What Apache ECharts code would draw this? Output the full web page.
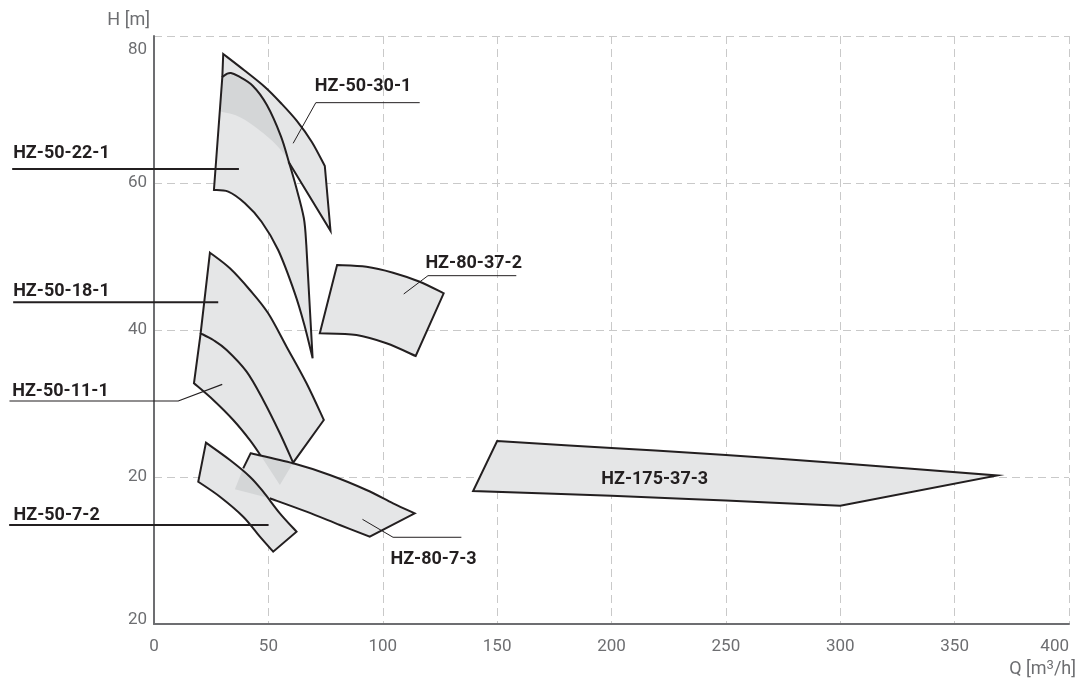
<!DOCTYPE html>
<html>
<head>
<meta charset="utf-8">
<script src="https://cdn.jsdelivr.net/npm/echarts@6/dist/echarts.min.js"></script>
<style>
html,body{margin:0;padding:0;background:#fff;}
#chart{width:1079px;height:682px;}
</style>
</head>
<body>
<div id="chart"></div>
<script>
// ---- axis ticks ----
const xMin = 0, xMax = 400, xStep = 50;
const yTickValues = [0, 20, 40, 60, 80];
const yTickLabels = ['20', '20', '40', '60', '80'];
const yAxisName = 'H [m]';

// ---- pump working areas [Q m3/h, H m] ----
const hz50_30_1 = [[30.26,77.55],[39.3,75.37],[48.47,73.06],[55.46,70.88],[62.45,68.44],[69.0,65.58],[74.67,62.31],[77.16,53.51],[58.8,62.9],[57.21,63.81],[51.75,65.71],[43.67,67.76],[36.46,69.12],[28.55,69.76]];
const hz50_22_1 = [[26.2,59.05],[29.87,74.42],[31.75,74.83],[33.62,74.97],[36.68,74.56],[43.23,73.2],[49.34,70.61],[55.46,66.39],[58.95,62.86],[62.01,59.59],[65.5,55.24],[66.59,51.56],[69.34,36.15],[65.94,40.45],[61.57,44.99],[54.28,50.88],[47.03,54.73],[39.74,57.24],[32.45,58.82]];
const hz50_18_1 = [[24.45,50.52],[33.19,48.39],[41.92,45.44],[49.91,42.27],[57.95,37.73],[66.68,32.75],[74.24,27.76],[60.83,21.95],[55.02,25.95],[47.73,30.48],[40.48,34.33],[31.75,37.28],[25.9,38.64],[20.39,39.55]];
const hz50_11_1 = [[20.39,39.55],[17.47,32.75],[25.9,30.48],[34.63,27.76],[41.92,25.03],[46.7,22.9],[55.02,18.91],[60.83,21.95],[55.02,25.95],[47.73,30.48],[40.48,34.33],[31.75,37.28],[25.9,38.64]];
const hz80_7_3 = [[42.23,23.22],[60.83,21.86],[76.86,20.27],[92.88,18.23],[104.5,16.42],[113.97,15.06],[94.32,11.88],[81.22,13.47],[66.68,15.28],[50.66,17.1],[35.37,18.33],[39.0,21.18]];
const hz50_7_2 = [[22.71,24.67],[33.19,22.31],[41.92,20.04],[47.73,18.0],[55.02,15.06],[62.31,12.56],[52.1,9.84],[46.29,11.88],[39.0,14.6],[28.82,17.32],[19.34,19.36]];
const hz80_37_2 = [[80.04,48.84],[92.88,48.61],[104.5,47.8],[116.16,46.57],[126.64,44.99],[114.41,36.46],[101.62,38.19],[88.52,39.32],[72.49,39.55]];
const hz175_37_3 = [[150,24.9],[200,23.95],[250,23.0],[300,21.87],[368.6,20.2],[300,16.1],[250,16.8],[200,17.45],[139.5,18.1]];

// sharp vertices of each area (indices); the runs between them are smooth curves
const cor50_30_1 = [0, 6, 7, 8, 13];
const cor50_22_1 = [0, 1, 11, 12];
const cor50_18_1 = [0, 6, 7, 13];
const cor50_11_1 = [0, 1, 5, 6, 7];
const cor80_7_3 = [0, 5, 6, 9, 10, 11];
const cor50_7_2 = [0, 5, 6, 10];
const cor80_37_2 = [0, 4, 5, 8];
const cor175_37_3 = [0, 4, 5, 8];

// ---- drawn open outlines (edges hidden inside an overlap are left out) ----
const out50_30_1 = [[29.87,74.42],[30.26,77.55],[39.3,75.37],[48.47,73.06],[55.46,70.88],[62.45,68.44],[69.0,65.58],[74.67,62.31],[77.16,53.51],[58.8,62.9]];
const outCor50_30_1 = [0, 1, 7, 8, 9];
const out50_11_1 = [[20.39,39.55],[17.47,32.75],[25.9,30.48],[34.63,27.76],[41.92,25.03],[46.7,22.9]];
const outCor50_11_1 = [0, 1, 5];
const out80_7_3 = [[39.0,21.18],[42.23,23.22],[60.83,21.86],[76.86,20.27],[92.88,18.23],[104.5,16.42],[113.97,15.06],[94.32,11.88],[81.22,13.47],[66.68,15.28],[50.66,17.1]];
const outCor80_7_3 = [0, 1, 6, 7, 10];

// ---- leader lines ----
const lead50_22_1 = [[-62.0,61.9],[37.12,61.9]];
const lead50_30_1 = [[60.83,65.4],[70.74,70.93],[116.16,70.93]];
const lead50_18_1 = [[-61.57,43.77],[28.08,43.77]];
const lead50_11_1 = [[-63.19,30.34],[10.61,30.34],[29.83,32.61]];
const lead80_37_2 = [[109.17,44.9],[119.78,47.39],[158.38,47.39]];
const lead50_7_2 = [[-63.32,13.47],[50.09,13.47]];
const lead80_7_3 = [[91.14,14.24],[104.5,11.8],[134.37,11.8]];

// ---- labels ----
const labelNames = ['HZ-50-22-1','HZ-50-30-1','HZ-50-18-1','HZ-50-11-1','HZ-80-37-2','HZ-50-7-2','HZ-80-7-3','HZ-175-37-3'];
const labelAt = [[-61.57,63.95],[70.3,73.1],[-61.57,45.21],[-62.0,31.7],[118.65,49.07],[-61.4,14.74],[103.36,8.8],[218.9,19.6]];
const labelAlign = ['left','left','left','left','left','left','left','center'];

const areas = [
  {pts: hz50_22_1, cor: cor50_22_1, stroke: true},
  {pts: hz50_30_1, cor: cor50_30_1, stroke: false},
  {pts: hz50_18_1, cor: cor50_18_1, stroke: true},
  {pts: hz50_11_1, cor: cor50_11_1, stroke: false},
  {pts: hz80_37_2, cor: cor80_37_2, stroke: true},
  {pts: hz50_7_2, cor: cor50_7_2, stroke: true},
  {pts: hz80_7_3, cor: cor80_7_3, stroke: false},
  {pts: hz175_37_3, cor: cor175_37_3, stroke: true}
];
const openOutlines = [
  {pts: out50_30_1, cor: outCor50_30_1},
  {pts: out50_11_1, cor: outCor50_11_1},
  {pts: out80_7_3, cor: outCor80_7_3}
];
const leaders = [lead50_22_1, lead50_30_1, lead50_18_1, lead50_11_1, lead80_37_2, lead50_7_2, lead80_7_3];
const leaderWidth = [2, 1, 2, 1.2, 1, 2, 1];

const INK = '#231f20';
const AXIS = '#6d6e71';
const FILL = 'rgba(180,182,186,0.35)';

// path through pixel points: straight between consecutive sharp vertices,
// Catmull-Rom spline through the intermediate points otherwise
function pathFrom(px, corners, closed) {
  const n = px.length;
  const cs = corners.slice().sort((a, b) => a - b);
  const f = p => p[0].toFixed(2) + ' ' + p[1].toFixed(2);
  let d = 'M' + f(px[cs[0]]);
  const runs = [];
  for (let k = 0; k < cs.length - 1; k++) runs.push([cs[k], cs[k + 1]]);
  if (closed) runs.push([cs[cs.length - 1], cs[0] + n]);
  runs.forEach(([a, b]) => {
    const seg = [];
    for (let i = a; i <= b; i++) seg.push(px[i % n]);
    if (seg.length === 2) { d += ' L' + f(seg[1]); return; }
    for (let i = 0; i < seg.length - 1; i++) {
      const p0 = seg[Math.max(i - 1, 0)], p1 = seg[i], p2 = seg[i + 1], p3 = seg[Math.min(i + 2, seg.length - 1)];
      const c1 = [p1[0] + (p2[0] - p0[0]) / 6, p1[1] + (p2[1] - p0[1]) / 6];
      const c2 = [p2[0] - (p3[0] - p1[0]) / 6, p2[1] - (p3[1] - p1[1]) / 6];
      d += ' C' + f(c1) + ' ' + f(c2) + ' ' + f(p2);
    }
  });
  if (closed) d += ' Z';
  return d;
}

function customSeries(list, render, z) {
  return {
    type: 'custom', coordinateSystem: 'cartesian2d', silent: true, z: z, clip: false,
    data: list.map((_, i) => [i, 0]),
    renderItem: (params, api) => render(list[params.dataIndex], params.dataIndex, api)
  };
}

const chart = echarts.init(document.getElementById('chart'), null, {renderer: 'canvas'});
chart.setOption({
  animation: false,
  backgroundColor: '#fff',
  grid: {left: 154, right: 9, top: 36, bottom: 58},
  xAxis: {
    type: 'value', min: xMin, max: xMax, interval: xStep,
    axisLine: {show: true, lineStyle: {color: AXIS, width: 2}},
    axisTick: {show: false},
    splitLine: {show: true, lineStyle: {color: '#c9c9c9', width: 1, type: [8, 5]}},
    axisLabel: {color: AXIS, fontSize: 17, fontFamily: 'Roboto', margin: 14, alignMaxLabel: 'right'},
    name: '{a|Q [m}{s|3}{a|/h]}',
    nameLocation: 'end', nameGap: 7,
    nameTextStyle: {
      align: 'right', verticalAlign: 'top', padding: [35, 0, 0, 0],
      color: AXIS, fontFamily: 'Roboto', fontSize: 18,
      rich: {
        a: {color: AXIS, fontFamily: 'Roboto', fontSize: 18},
        s: {color: AXIS, fontFamily: 'Roboto', fontSize: 13, padding: [0, 0, 8, 0]}
      }
    }
  },
  yAxis: {
    type: 'value', min: 0, max: 80, interval: 20,
    axisLine: {show: true, lineStyle: {color: AXIS, width: 2}},
    axisTick: {show: false},
    splitLine: {show: true, lineStyle: {color: '#c9c9c9', width: 1, type: [8, 5]}},
    axisLabel: {
      color: AXIS, fontSize: 17, fontFamily: 'Roboto', margin: 7,
      formatter: v => {
        const t = yTickLabels[yTickValues.indexOf(v)];
        if (v === 80) return '{top|' + t + '}';
        if (v === 0) return '{bot|' + t + '}';
        return t;
      },
      rich: {
        top: {color: AXIS, fontSize: 17, fontFamily: 'Roboto', padding: [28, 0, 0, 0]},
        bot: {color: AXIS, fontSize: 17, fontFamily: 'Roboto', padding: [0, 0, 8, 0]}
      }
    },
    name: yAxisName, nameLocation: 'end', nameGap: 16,
    nameTextStyle: {color: AXIS, fontSize: 18, fontFamily: 'Roboto', align: 'right', verticalAlign: 'middle', padding: [0, 4, 0, 0]}
  },
  series: [
    customSeries(areas, (a, i, api) => ({type: 'path', shape: {pathData: pathFrom(a.pts.map(p => api.coord(p)), a.cor, true)}, style: {fill: '#ffffff', stroke: null}}), 2),
    customSeries(areas, (a, i, api) => ({type: 'path', shape: {pathData: pathFrom(a.pts.map(p => api.coord(p)), a.cor, true)}, style: {fill: FILL, stroke: null}}), 3),
    customSeries(areas, (a, i, api) => a.stroke ? ({type: 'path', shape: {pathData: pathFrom(a.pts.map(p => api.coord(p)), a.cor, true)}, style: {fill: null, stroke: INK, lineWidth: 2, lineJoin: 'miter'}}) : null, 4),
    customSeries(openOutlines, (o, i, api) => ({type: 'path', shape: {pathData: pathFrom(o.pts.map(p => api.coord(p)), o.cor, false)}, style: {fill: null, stroke: INK, lineWidth: 2, lineJoin: 'miter'}}), 4),
    customSeries(leaders, (l, i, api) => ({type: 'polyline', shape: {points: l.map(p => api.coord(p))}, style: {stroke: INK, lineWidth: leaderWidth[i], fill: null}}), 5),
    customSeries(labelNames, (t, i, api) => {
      const p = api.coord(labelAt[i]);
      return {type: 'text', x: p[0], y: p[1], style: {
        text: t, fill: INK, fontFamily: 'Roboto', fontWeight: 'bold', fontSize: 18,
        align: labelAlign[i], verticalAlign: 'middle'
      }};
    }, 6)
  ]
});
</script>
</body>
</html>
